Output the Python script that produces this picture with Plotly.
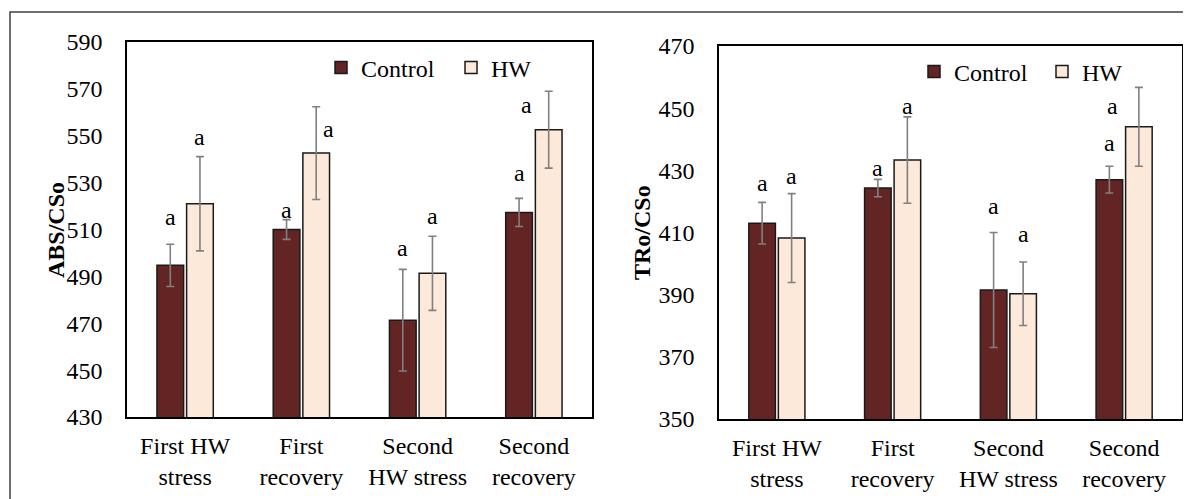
import plotly.graph_objects as go

# ---------------- data ----------------
categories = ["First HW<br>stress", "First<br>recovery", "Second<br>HW stress", "Second<br>recovery"]
series_names = ["Control", "HW"]

abs_control = [494.7, 510.0, 471.3, 517.3]
abs_control_err = [9.0, 4.2, 21.7, 6.0]
abs_hw = [521.0, 542.6, 491.3, 552.6]
abs_hw_err = [20.1, 19.8, 15.8, 16.4]

tr_control = [413.0, 424.3, 391.5, 427.0]
tr_control_err = [6.7, 2.8, 18.5, 4.3]
tr_hw = [408.2, 433.3, 390.3, 444.0]
tr_hw_err = [14.3, 13.9, 10.2, 12.7]

letters_abs_control = ["a", "a", "a", "a"]
letters_abs_hw = ["a", "a", "a", "a"]
letters_tr_control = ["a", "a", "a", "a"]
letters_tr_hw = ["a", "a", "a", "a"]

abs_ticks = [430, 450, 470, 490, 510, 530, 550, 570, 590]
tr_ticks = [350, 370, 390, 410, 430, 450, 470]

# ---------------- label placement (layout, not data) ----------------
lab_abs_control_y = [515.4, 518.3, 502.0, 534.3]
lab_abs_hw_y = [549.6, 552.8, 515.8, 563.1]
lab_abs_hw_dx = [0, 12, 0, -22]
lab_tr_control_y = [426.0, 430.6, 418.5, 438.7]
lab_tr_hw_y = [428.2, 450.8, 409.6, 450.6]
lab_tr_hw_dx = [0, 0, 0, -26]

# ---------------- styles ----------------
PAGE_OFF = 8            # default body margin of the html page
W, H = 1191 - PAGE_OFF, 499 - PAGE_OFF
FONT = "Liberation Serif"
C_CONTROL = "#632523"
C_HW = "#FDE9D9"
ERR_COLOR = "#808080"
BARGAP = 0.49
BARGROUPGAP = 0.1


def px_x(p):
    return (p - PAGE_OFF) / W


def px_y(p):
    return 1 - (p - PAGE_OFF) / H


fig = go.Figure()


def add_pair(ctrl, ctrl_err, hw, hw_err, xa, ya, legend):
    for name, vals, errs, color in [
        (series_names[0], ctrl, ctrl_err, C_CONTROL),
        (series_names[1], hw, hw_err, C_HW),
    ]:
        fig.add_trace(go.Bar(
            x=categories, y=vals, name=name,
            marker=dict(color=color, line=dict(color="#1a1a1a", width=1.5)),
            error_y=dict(type="data", array=errs, visible=True,
                         color=ERR_COLOR, thickness=1.6, width=4),
            xaxis=xa, yaxis=ya, legend=legend,
        ))


add_pair(abs_control, abs_control_err, abs_hw, abs_hw_err, "x", "y", "legend")
add_pair(tr_control, tr_control_err, tr_hw, tr_hw_err, "x2", "y2", "legend2")

# letter annotations
slot = (1 - BARGAP) / 4.0
annos = []


def add_letters(letters, ys, dxs, sign, xref, yref):
    for i, (t, yv) in enumerate(zip(letters, ys)):
        annos.append(dict(
            x=i + sign * slot, y=yv, xref=xref, yref=yref, text=t,
            showarrow=False, xshift=(dxs[i] if dxs else 0),
            font=dict(family=FONT, size=24, color="black"),
        ))


add_letters(letters_abs_control, lab_abs_control_y, None, -1, "x", "y")
add_letters(letters_abs_hw, lab_abs_hw_y, lab_abs_hw_dx, 1, "x", "y")
add_letters(letters_tr_control, lab_tr_control_y, None, -1, "x2", "y2")
add_letters(letters_tr_hw, lab_tr_hw_y, lab_tr_hw_dx, 1, "x2", "y2")

# axis titles
annos.append(dict(x=px_x(41), y=px_y(230), xref="paper", yref="paper",
                  text="<b>ABS/CSo</b>", textangle=-90, showarrow=False,
                  font=dict(family=FONT, size=24, color="black")))
annos.append(dict(x=px_x(642), y=px_y(233), xref="paper", yref="paper",
                  text="<b>TRo/CSo</b>", textangle=-90, showarrow=False,
                  font=dict(family=FONT, size=24, color="black")))

axis_common = dict(showline=True, linecolor="black", linewidth=1.5, mirror=True,
                   showgrid=False, zeroline=False, ticks="",
                   tickfont=dict(family=FONT, size=24, color="black"))

fig.update_layout(
    width=W, height=H,
    margin=dict(l=0, r=0, t=0, b=0, autoexpand=False),
    paper_bgcolor="white", plot_bgcolor="white",
    barmode="group", bargap=BARGAP, bargroupgap=BARGROUPGAP,
    annotations=annos,
    xaxis=dict(domain=[px_x(127), px_x(592)], anchor="y", ticklabelstandoff=6,
               automargin=False, **axis_common),
    yaxis=dict(domain=[px_y(417), px_y(42)], anchor="x", range=[430, 590],
               tickvals=abs_ticks, ticklabelstandoff=18, automargin=False, **axis_common),
    xaxis2=dict(domain=[px_x(719), px_x(1182)], anchor="y2", ticklabelstandoff=6,
                automargin=False, **axis_common),
    yaxis2=dict(domain=[px_y(419), px_y(46)], anchor="x2", range=[350, 470],
                tickvals=tr_ticks, ticklabelstandoff=18, automargin=False, **axis_common),
    legend=dict(orientation="h", x=px_x(321), xanchor="left", y=px_y(68), yanchor="middle",
                entrywidth=85, entrywidthmode="pixels", bgcolor="rgba(0,0,0,0)",
                font=dict(family=FONT, size=24, color="black"), itemclick=False),
    legend2=dict(orientation="h", x=px_x(914), xanchor="left", y=px_y(72), yanchor="middle",
                 entrywidth=83, entrywidthmode="pixels", bgcolor="rgba(0,0,0,0)",
                 font=dict(family=FONT, size=24, color="black"), itemclick=False),
    shapes=[dict(type="rect", xref="paper", yref="paper",
                 x0=px_x(10), x1=1.05, y0=-0.05, y1=px_y(12),
                 line=dict(color="#404040", width=1.5), fillcolor="rgba(0,0,0,0)",
                 layer="below")],
    showlegend=True,
)

fig.write_html("out.html")
